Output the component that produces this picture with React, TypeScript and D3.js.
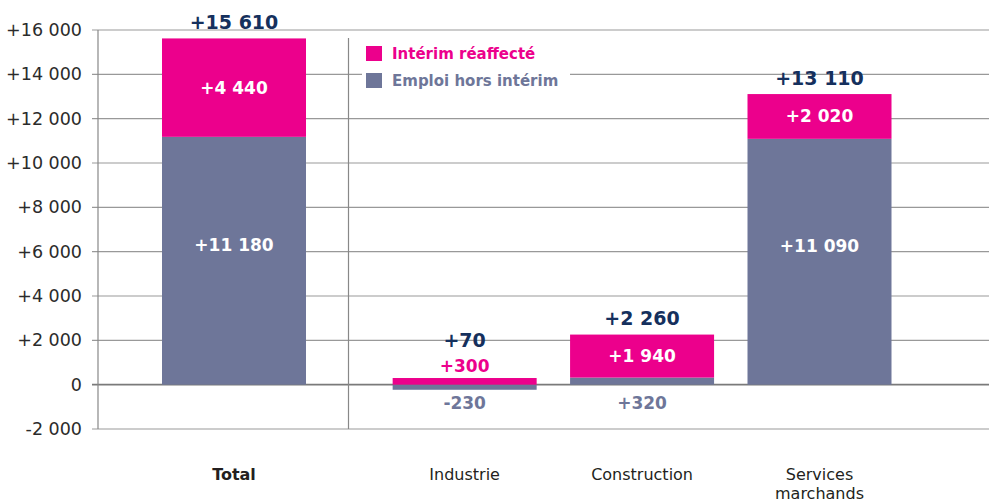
import React from 'react';
import * as d3 from 'd3';

const categories: string[] = ['Total', 'Industrie', 'Construction', 'Services marchands'];
const interim: number[] = [4440, 300, 1940, 2020];
const emploiHorsInterim: number[] = [11180, -230, 320, 11090];
const totals: number[] = [15610, 70, 2260, 13110];
const yTicks: number[] = [-2000, 0, 2000, 4000, 6000, 8000, 10000, 12000, 14000, 16000];
const legendLabels: string[] = ['Intérim réaffecté', 'Emploi hors intérim'];

const width = 989;
const height = 501;
const PINK = '#EC008C';
const GREY = '#6E7699';
const NAVY = '#15305D';

// slot 0 for the total, then a wider gap before the three sectors
const slots: number[] = [0, 1.3, 2.3, 3.3];

const locale = d3.formatLocale({ decimal: ',', thousands: ' ', grouping: [3], currency: ['', ''], minus: '-' });
const fmtSigned = (v: number) => (v === 0 ? '0' : locale.format('+,')(v));

function App() {
    const y = d3.scaleLinear().domain([-2000, 16000]).range([429, 30]);
    const x = d3.scaleLinear().domain([0, 3.3]).range([234, 819.5]);
    const barW = 144;

    const rows = categories.map((c, i) => ({ cat: c, emploi: emploiHorsInterim[i], interim: interim[i] }));
    const series = d3.stack<any>()
        .keys(['emploi', 'interim'])
        .offset(d3.stackOffsetDiverging)(rows);

    const font = 'DejaVu Sans, Verdana, sans-serif';

    return (
        <svg width={width} height={height} style={{ position: 'absolute', left: 0, top: 0 }}>
            {/* grid + ticks */}
            {yTicks.map(t => (
                <g key={t}>
                    <line x1={92} x2={width} y1={y(t)} y2={y(t)}
                        stroke={t === 0 ? '#7a7a7a' : '#999'} strokeWidth={t === 0 ? 1.6 : 1.2} />
                    <text x={82} y={y(t)} dy="0.35em" textAnchor="end" fontFamily={font}
                        fontSize={17.5} fill="#2b2b2b">{fmtSigned(t)}</text>
                </g>
            ))}
            <line x1={98} x2={98} y1={30} y2={429} stroke="#888" strokeWidth={1.2} />
            <line x1={348.5} x2={348.5} y1={38} y2={429} stroke="#888" strokeWidth={1.2} />

            {/* bars */}
            {series.map(s => (
                <g key={s.key} fill={s.key === 'interim' ? PINK : GREY}>
                    {s.map((d: any, i: number) => (
                        <rect key={i} x={x(slots[i]) - barW / 2} width={barW}
                            y={y(Math.max(d[0], d[1]))} height={Math.abs(y(d[0]) - y(d[1]))} />
                    ))}
                </g>
            ))}

            {/* value labels */}
            {categories.map((c, i) => {
                const cx = x(slots[i]);
                const g = emploiHorsInterim[i];
                const p = interim[i];
                const gTop = Math.max(0, g);
                const pBottom = g > 0 ? g : 0;
                const pTop = pBottom + p;
                const pInside = y(pBottom) - y(pTop) > 20;
                const gInside = Math.abs(y(0) - y(g)) > 20;
                const labels: JSX.Element[] = [];
                const pinkY = pInside ? (y(pBottom) + y(pTop)) / 2 : y(pTop) - 12;
                labels.push(
                    <text key="p" x={cx} y={pinkY} dy="0.35em" fill={pInside ? '#fff' : PINK}>{fmtSigned(p)}</text>
                );
                const greyY = gInside ? (y(0) + y(gTop)) / 2 - 16 : y(Math.min(0, g)) + 11;
                labels.push(
                    <text key="g" x={cx} y={gInside ? greyY : Math.max(greyY, y(0) + 18)} dy="0.35em"
                        fill={gInside ? '#fff' : GREY}>{fmtSigned(g)}</text>
                );
                const totY = pInside ? y(pTop) - 16 : pinkY - 26;
                labels.push(
                    <text key="t" x={cx} y={totY} dy="0.35em" fill={NAVY} fontSize={19}>{fmtSigned(totals[i])}</text>
                );
                return (
                    <g key={c} textAnchor="middle" fontFamily={font} fontWeight="bold" fontSize={17}>
                        {labels}
                    </g>
                );
            })}

            {/* category labels */}
            {categories.map((c, i) => (
                <text key={c} x={x(slots[i])} y={480} textAnchor="middle" fontFamily={font}
                    fontSize={16} fontWeight={i === 0 ? 'bold' : 'normal'} fill="#231F20">
                    {c.split(' ').map((w, j) => (
                        <tspan key={j} x={x(slots[i])} dy={j === 0 ? 0 : 18.5}>{w}</tspan>
                    ))}
                </text>
            ))}

            {/* legend */}
            <rect x={362} y={40} width={208} height={52} fill="#fff" />
            {legendLabels.map((l, i) => (
                <g key={l}>
                    <rect x={366} y={46 + i * 27} width={16} height={15} fill={i === 0 ? PINK : GREY} />
                    <text x={392} y={53.5 + i * 27} dy="0.35em" fontFamily={font} fontWeight="bold"
                        fontSize={15} fill={i === 0 ? PINK : GREY}>{l}</text>
                </g>
            ))}
        </svg>
    );
}

export default App;
